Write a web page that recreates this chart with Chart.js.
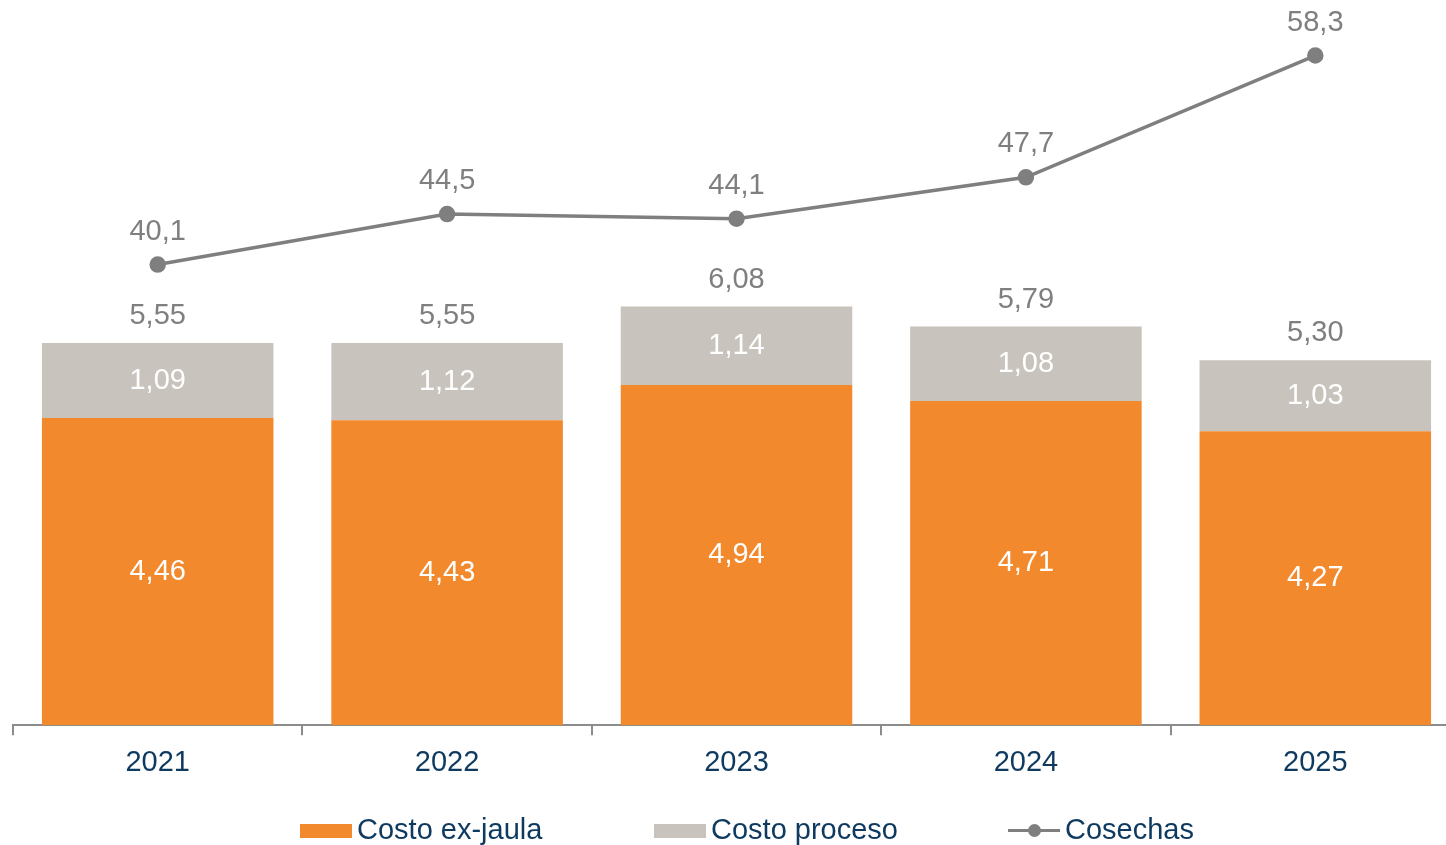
<!DOCTYPE html>
<html>
<head>
<meta charset="utf-8">
<script src="https://cdn.jsdelivr.net/npm/chart.js@4.4.1/dist/chart.umd.min.js"></script>
<style>
  html, body { margin: 0; padding: 0; background: #fff; overflow: hidden; }
  #chart { position: absolute; left: 0; top: 0; }
  .legend-item { position: absolute; top: 815px; font: 29px "Liberation Sans", Arial, sans-serif; line-height: 29px; color: #0e3a5f; white-space: nowrap; }
  .swatch { position: absolute; top: 9px; width: 52px; height: 14px; }
  .legend-item span { position: absolute; left: 57px; top: 0; }
</style>
</head>
<body>
<canvas id="chart" width="1461" height="845" style="width:1461px;height:845px"></canvas>
<div class="legend-item" style="left:300px"><div class="swatch" style="background:#f3892d"></div><span>Costo ex-jaula</span></div>
<div class="legend-item" style="left:654px"><div class="swatch" style="background:#c8c3bc"></div><span>Costo proceso</span></div>
<div class="legend-item" style="left:1008px">
  <div class="swatch" style="top:14px;height:3px;background:#7f7f7f"></div>
  <div class="swatch" style="top:9px;left:20px;width:13px;height:13px;border-radius:50%;background:#7f7f7f"></div>
  <span>Cosechas</span>
</div>
<script>
const categories = ["2021", "2022", "2023", "2024", "2025"];
const exJaula = [4.46, 4.43, 4.94, 4.71, 4.27];
const proceso = [1.09, 1.12, 1.14, 1.08, 1.03];
const totals = [5.55, 5.55, 6.08, 5.79, 5.3];
const cosechas = [40.1, 44.5, 44.1, 47.7, 58.3];

const FONT = '"Liberation Sans", Arial, sans-serif';
const fmt = (v, d) => v.toFixed(d).replace(".", ",");

const valueLabels = {
  id: "valueLabels",
  afterDatasetsDraw(chart) {
    const ctx = chart.ctx;
    ctx.save();
    ctx.font = `29px ${FONT}`;
    ctx.textAlign = "center";
    ctx.textBaseline = "middle";

    // segment labels inside the bars
    [exJaula, proceso].forEach((values, i) => {
      chart.getDatasetMeta(i).data.forEach((bar, j) => {
        ctx.fillStyle = "#ffffff";
        ctx.fillText(fmt(values[j], 2), bar.x, (bar.y + bar.base) / 2);
      });
    });

    // totals on top of the stack
    chart.getDatasetMeta(1).data.forEach((bar, j) => {
      ctx.fillStyle = "#7f7f7f";
      ctx.fillText(fmt(totals[j], 2), bar.x, bar.y - 27);
    });

    // line labels
    chart.getDatasetMeta(2).data.forEach((pt, j) => {
      ctx.fillStyle = "#7f7f7f";
      ctx.fillText(fmt(cosechas[j], 1), pt.x, pt.y - 33);
    });
    ctx.restore();
  },
};

new Chart(document.getElementById("chart"), {
  data: {
    labels: categories,
    datasets: [
      {
        type: "bar",
        label: "Costo ex-jaula",
        data: exJaula,
        backgroundColor: "#f3892d",
        stack: "costo",
        yAxisID: "y",
        order: 2,
        categoryPercentage: 1,
        barPercentage: 0.8,
      },
      {
        type: "bar",
        label: "Costo proceso",
        data: proceso,
        backgroundColor: "#c8c3bc",
        stack: "costo",
        yAxisID: "y",
        order: 2,
        categoryPercentage: 1,
        barPercentage: 0.8,
      },
      {
        type: "line",
        label: "Cosechas",
        data: cosechas,
        borderColor: "#7f7f7f",
        backgroundColor: "#7f7f7f",
        borderWidth: 3.5,
        pointRadius: 6.5,
        pointHoverRadius: 6.5,
        tension: 0,
        clip: false,
        yAxisID: "y2",
        order: 1,
      },
    ],
  },
  options: {
    responsive: false,
    animation: false,
    devicePixelRatio: 1,
    layout: {
      autoPadding: false,
      padding: { left: 13, right: 1, top: 5, bottom: 55 },
    },
    scales: {
      x: {
        stacked: true,
        offset: true,
        grid: {
          offset: true,
          drawOnChartArea: false,
          drawTicks: true,
          tickLength: 10,
          color: "#8c8c8c",
          lineWidth: 2,
        },
        border: { display: true, color: "#8c8c8c", width: 2 },
        ticks: {
          color: "#0e3a5f",
          padding: 10,
          font: { size: 29, family: FONT, lineHeight: 1.2 },
        },
      },
      y: {
        display: false,
        stacked: true,
        min: 0,
        max: 10.46,
      },
      y2: {
        display: false,
        min: 0,
        max: 62.7,
      },
    },
    plugins: {
      legend: { display: false },
      tooltip: { enabled: false },
    },
  },
  plugins: [valueLabels],
});
</script>
</body>
</html>
